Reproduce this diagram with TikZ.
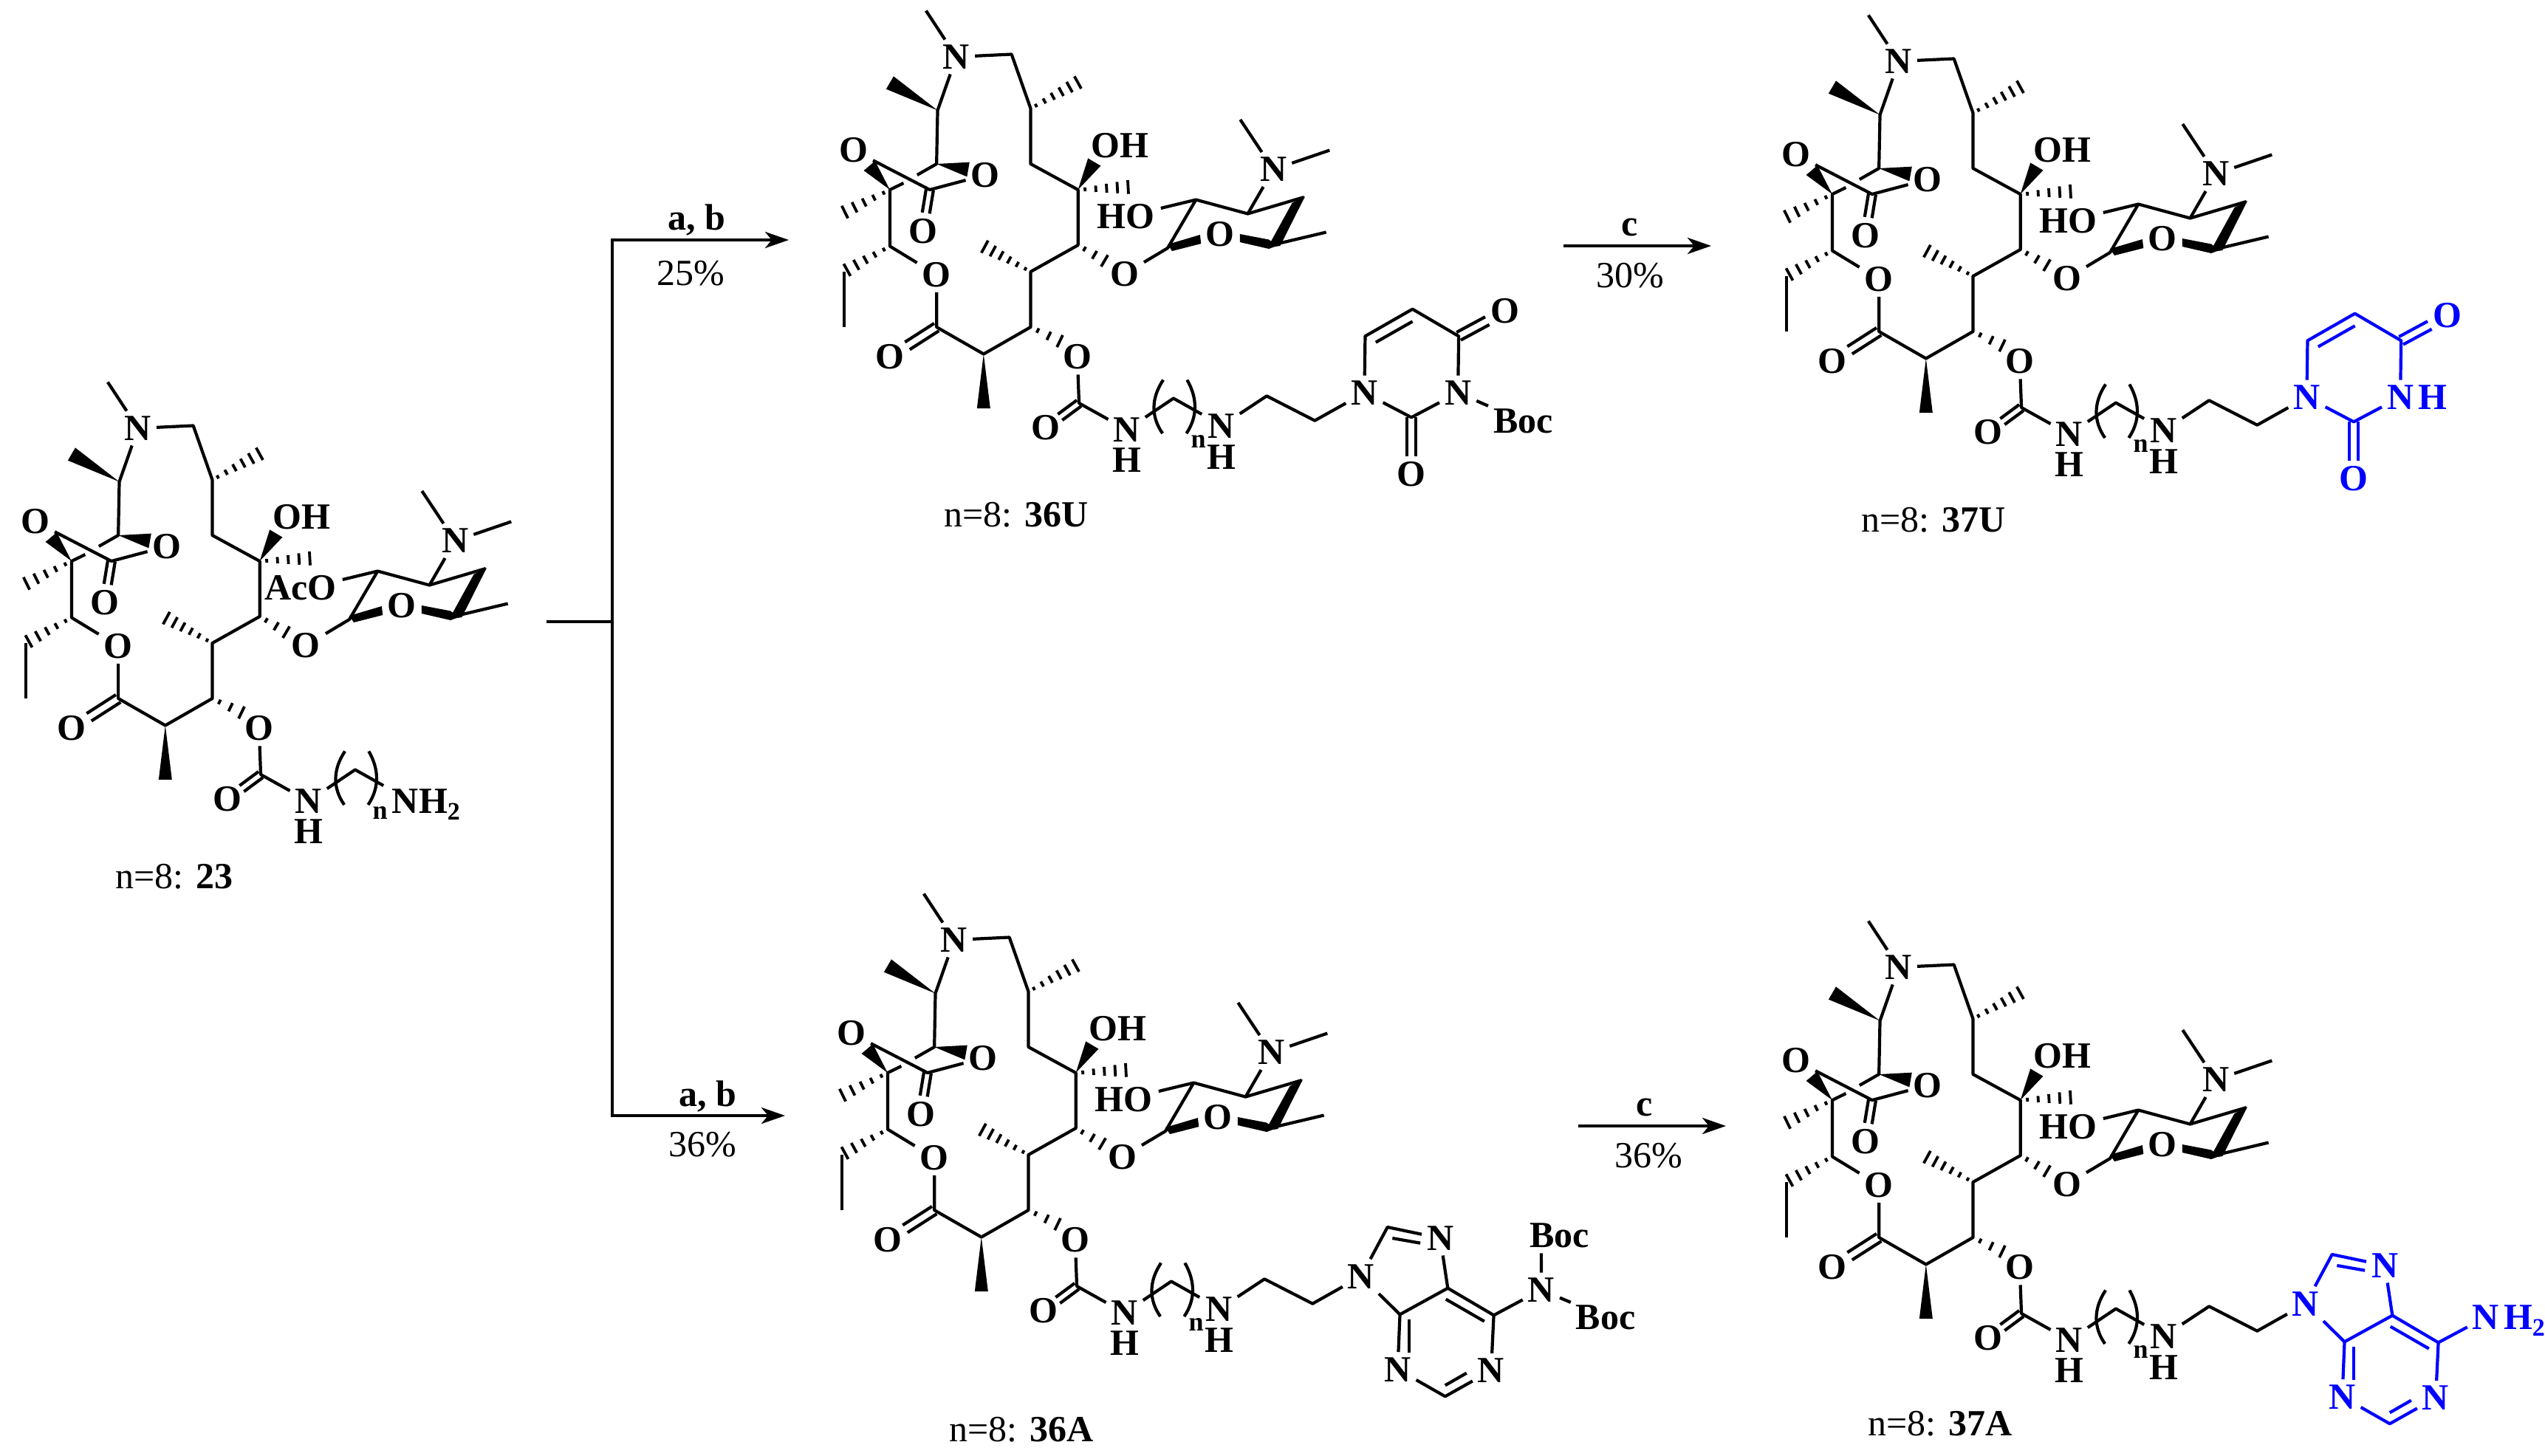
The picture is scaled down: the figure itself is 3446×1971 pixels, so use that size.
\documentclass[tikz,border=0pt]{standalone}
\usepackage{fontspec}
\setmainfont{Liberation Serif}
\usetikzlibrary{calc,arrows.meta}
\definecolor{bb}{RGB}{0,0,255}
\tikzset{
  atom/.style={font=\fontsize{50}{52}\selectfont\bfseries,inner sep=5pt},
  subatom/.style={font=\fontsize{36}{38}\selectfont\bfseries,inner sep=0pt},
  lab/.style={font=\fontsize{50}{52}\selectfont,inner sep=0pt},
  rxn/.style={font=\fontsize{50}{52}\selectfont\bfseries,inner sep=0pt},
  arrowline/.style={line width=4.5pt,-{Stealth[length=32pt,width=22pt,inset=9pt]}},
  hashline/.style={line width=3.8pt},
}
\newcommand{\hashb}[3]{%
  \begin{scope}[reset cm]
  \foreach \i in {1,...,#3}{%
    \pgfmathsetmacro\hT{(\i-.35)/#3}%
    \pgfmathsetmacro\hH{1.5+8.5*\hT}%
    \coordinate (hp) at ($(#1)!\hT!(#2)$);
    \draw[hashline] ($(hp)!\hH pt!90:(#2)$) -- ($(hp)!\hH pt!-90:(#2)$);
  }
  \end{scope}}
\newcommand{\wedgeb}[3]{%
  \begin{scope}[reset cm]
  \fill (#1) -- ($(#2)!#3!90:(#1)$) -- ($(#2)!#3!-90:(#1)$) -- cycle;
  \end{scope}}
\newcommand{\dblb}[4]{%
  \begin{scope}[reset cm]
  \coordinate (dq) at ($(#1)!#4!(#2)$);
  \draw ($(#1)!#3!90:(#2)$) -- ($(dq)!#3!-90:(#1)$);
  \draw ($(#1)!#3!-90:(#2)$) -- ($(dq)!#3!90:(#1)$);
  \end{scope}}
\newcommand{\mlcore}[1]{%
  \begin{scope}[shift={(0,-440)},xscale=.4615,yscale=-.5]
    \foreach \nm/\xx/\yy in {c1/567/273,c2/623/420,c3/623/570,c4/762/640,c5/762/790,c6/623/862,c7/623/1012,c8/485/1085,c9/347/1012,c10/210/793,c11/210/640,c12/347/570,c13/350/425,c14/327/640,c15/765/1218,gapa/250/622,gapb/290/600,me1/316/155,me2/770/345,me3/920/632,me4/480/790,me5/75/862,me6/75/1012,me7/68/705,me8/485/1232,me9/210/350,wa/810/565,wb/440/585,wc/150/575,ha/850/838,hb/720/1055,s1/1025/798,s2/1330/790,s3/1425/660,s4/1260/705,s5/1108/667,oe/1005/690,sm1/1490/755,sm2/1238/450,sm3/1500/533,ch2/1042/1205,ch3/1125/1248,bla/1012/1155,blb/976/1205,blc/976/1255,bld/1010/1300,bra/1082/1155,brb/1113/1205,brc/1113/1255,brd/1080/1300}
      {\coordinate (\nm) at (\xx,\yy);}
    \node[atom] (NA) at (405,280) {N};
    \node[atom] (OA) at (347,870) {O};
    \node[atom] (OB) at (210,1093) {O};
    \node[atom] (OC) at (103,533) {O};
    \node[atom] (OD) at (490,600) {O};
    \node[atom] (OE) at (307,752) {O};
    \node[atom] (OF) at (898,868) {O};
    \node[atom] (OG) at (760,1093) {O};
    \node[atom] (OH) at (885,520) {OH};
    \node[atom,inner sep=0pt,anchor=east] (OX) at (992,712) {#1};
    \node[atom] (OS) at (1178,760) {O};
    \node[atom] (NS) at (1335,585) {N};
    \node[atom] (OK) at (667,1285) {O};
    \node[atom] (NH) at (905,1290) {N};
    \node[atom] (HH) at (905,1372) {H};
    \node[subatom] (nn) at (1115,1322) {n};
    \draw (me1) -- (NA) -- (c1) -- (c2) -- (c3) -- (c4) -- (c5) -- (c6) -- (c7) -- (c8) -- (c9) -- (OA) -- (c10) -- (c11) -- (gapa);
    \draw (gapb) -- (c12) -- (c13) -- (NA);
    \draw (OC) -- (c14) -- (OD);
    \dblb{c14}{OE}{5pt}{32pt}
    \dblb{c9}{OB}{6pt}{47pt}
    \hashb{c2}{me2}{6}
    \hashb{c4}{me3}{5}
    \hashb{c6}{me4}{6}
    \hashb{c10}{me5}{5}
    \hashb{c11}{me7}{5}
    \hashb{c5}{ha}{3}
    \hashb{c7}{hb}{3}
    \draw (me5) -- (me6);
    \wedgeb{c13}{me9}{10pt}
    \wedgeb{c12}{wb}{10pt}
    \wedgeb{c11}{wc}{10pt}
    \wedgeb{c4}{wa}{10pt}
    \wedgeb{c8}{me8}{9pt}
    \draw (OF) -- (s1) -- (s5) -- (s4) -- (s3);
    \draw (s5) -- (oe);
    \draw (s4) -- (NS) -- (sm2);
    \draw (NS) -- (sm3);
    \draw (s2) -- (sm1);
    \fill (1025,788) -- (1120,762) -- (1123,786) -- (1038,806) -- cycle;
    \fill (1237,760) -- (1237,782) -- (1322,800) -- (1345,792) -- (1322,775) -- cycle;
    \fill (1390,676) -- (1428,658) -- (1355,792) -- (1318,797) -- cycle;
    \draw (OG) -- (c15) -- (NH) -- (ch2) -- (ch3);
    \dblb{c15}{OK}{5pt}{32pt}
    \draw (bla) .. controls (blb) and (blc) .. (bld);
    \draw (bra) .. controls (brb) and (brc) .. (brd);
  \end{scope}}
\newcommand{\mllinker}{%
  \begin{scope}[shift={(243,-925)},xscale=.5128,yscale=-.3333]
    \node[atom] (RN) at (590,465) {N};
    \node[atom] (RH) at (590,590) {H};
    \coordinate (L1) at (710,343);
    \coordinate (L2) at (837,443);
    \draw (RN) -- (L1) -- (L2) -- (NX);
  \end{scope}}
\newcommand{\mlura}[2]{%
  \begin{scope}[shift={(243,-925)},xscale=.5128,yscale=-.3333,color=#1]
    \foreach \nm/\xx/\yy in {C6/970/100,C5/1095/-10,C4/1217/100,C2/1092/430,ia/998/125,ib/1095/40}
      {\coordinate (\nm) at (\xx,\yy);}
    \node[atom] (NX) at (968,330) {N};
    \node[atom] (N3) at (1215,330) {N};
    \node[atom] (O4) at (1340,-2) {O};
    \node[atom] (O2) at (1092,660) {O};
    \draw (NX) -- (C6) -- (C5) -- (C4) -- (N3) -- (C2) -- (NX);
    \draw (ia) -- (ib);
    \dblb{C4}{O4}{6pt}{44pt}
    \dblb{C2}{O2}{6pt}{53pt}
    #2
  \end{scope}
  \mllinker}
\newcommand{\mlpur}[2]{%
  \begin{scope}[shift={(266,-870)},xscale=.5102,yscale=-.3333,color=#1]
    \foreach \nm/\xx/\yy in {C8/995/297,C5/1155/545,C4/1028/652,C6/1277/655,C2/1148/985,ia/1008/342,ib/1082/362,ic/1150/590,id/1252/680,ie/1053/808,if/1053/672,ig/1205/890,ih/1148/940}
      {\coordinate (\nm) at (\xx,\yy);}
    \node[atom] (NX) at (925,497) {N};
    \node[atom] (N7) at (1135,342) {N};
    \node[atom] (N1) at (1270,880) {N};
    \node[atom] (N3) at (1022,875) {N};
    \node[atom] (N6) at (1403,552) {N};
    \draw (NX) -- (C8) -- (N7) -- (C5) -- (C4) -- (NX);
    \draw (C5) -- (C6) -- (N1) -- (C2) -- (N3) -- (C4);
    \draw (C6) -- (N6);
    \draw (ia) -- (ib);
    \draw (ic) -- (id);
    \draw (ie) -- (if);
    \draw (ig) -- (ih);
    #2
  \end{scope}
  \mllinker}
\newcommand{\mlmol}[5]{%
  \begin{scope}[shift={(#2,#3)},name prefix=#1-]
    \mlcore{#4}
    #5
  \end{scope}}
\begin{document}
\begin{tikzpicture}[x=1pt,y=1pt,line width=4.2pt,line join=round]
  \useasboundingbox (0,0) rectangle (3446,-1971);
  % molecule 23
  \mlmol{m23}{0}{0}{AcO}{%
    \begin{scope}[shift={(0,-440)},xscale=.4615,yscale=-.5]
      \node[atom,anchor=west] (NT) at (1135,1290) {NH\smash{\raisebox{-9pt}{\fontsize{34}{36}\selectfont 2}}};
    \end{scope}}
  % molecule 36U
  \mlmol{m36U}{1108}{503}{HO}{%
    \mlura{black}{\node[atom] (Bc) at (1387,445) {Boc}; \draw (N3) -- (Bc);}}
  % molecule 37U
  \mlmol{m37U}{2384}{497}{HO}{%
    \mlura{bb}{\node[atom,inner sep=0pt,anchor=west] (Hh) at ([xshift=-5pt]N3.east) {H};}}
  % molecule 36A
  \mlmol{m36A}{1105}{-693}{HO}{%
    \mlpur{black}{\coordinate (bt) at (1403,403);
      \node[atom] (Ba) at (1452,332) {Boc};
      \node[atom] (Bb) at (1574,663) {Boc};
      \draw (N6) -- (bt);
      \draw (N6) -- (Bb);}}
  % molecule 37A
  \mlmol{m37A}{2384}{-730}{HO}{%
    \mlpur{bb}{\node[atom,inner sep=0pt,anchor=west] (Hh) at ([xshift=-6pt]N6.east) {H\smash{\raisebox{-9pt}{\fontsize{34}{36}\selectfont 2}}};}}
  % compound labels
  \node[lab] (l23) at (236,-1187) {n=8: \textbf{23}};
  \node[lab] (l36U) at (1376,-697) {n=8: \textbf{36U}};
  \node[lab] (l37U) at (2618,-704) {n=8: \textbf{37U}};
  \node[lab] (l36A) at (1383,-1936) {n=8: \textbf{36A}};
  \node[lab] (l37A) at (2627,-1928) {n=8: \textbf{37A}};
  % reaction scheme
  \coordinate (st) at (740,-842);
  \coordinate (ju) at (829,-842);
  \coordinate (ct) at (829,-325);
  \coordinate (cb) at (829,-1511);
  \coordinate (ht) at (1068,-325);
  \coordinate (hb) at (1063,-1511);
  \coordinate (c1s) at (2117,-333);
  \coordinate (c1e) at (2317,-333);
  \coordinate (c2s) at (2137,-1525);
  \coordinate (c2e) at (2337,-1525);
  \draw[line width=4.5pt] (st) -- (ju);
  \draw[arrowline,line join=miter] (ju) -- (ct) -- (ht);
  \draw[arrowline,line join=miter] (ju) -- (cb) -- (hb);
  \draw[arrowline] (c1s) -- (c1e);
  \draw[arrowline] (c2s) -- (c2e);
  \node[rxn] (ab1) at (943,-298) {a, b};
  \node[lab] (y1) at (935,-370) {25\%};
  \node[rxn] (ab2) at (958,-1485) {a, b};
  \node[lab] (y2) at (951,-1550) {36\%};
  \node[rxn] (cc1) at (2207,-308) {c};
  \node[lab] (y3) at (2207,-373) {30\%};
  \node[rxn] (cc2) at (2227,-1500) {c};
  \node[lab] (y4) at (2232,-1565) {36\%};
\end{tikzpicture}
\end{document}
